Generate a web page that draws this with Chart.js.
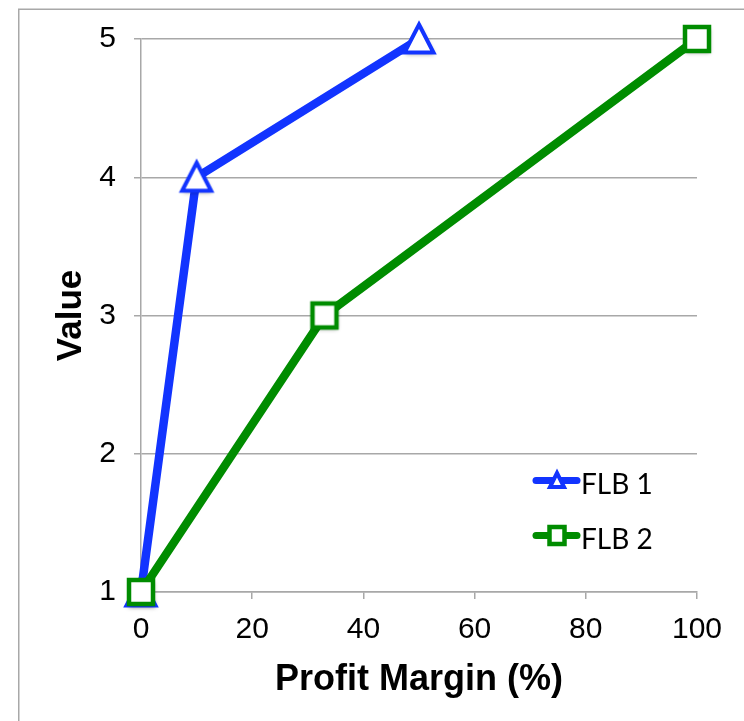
<!DOCTYPE html>
<html>
<head>
<meta charset="utf-8">
<script src="https://cdn.jsdelivr.net/npm/chart.js@4.4.1/dist/chart.umd.min.js"></script>
<style>
  html, body { margin: 0; padding: 0; background: #ffffff; }
  #wrap { width: 744px; height: 721px; position: relative; }
  canvas { display: block; }
</style>
</head>
<body>
<div id="wrap"><canvas id="chart" width="744" height="721"></canvas></div>
<script>
// Series data
const seriesNames = ['FLB 1', 'FLB 2'];
const flb1Margin = [0, 10, 50];
const flb1Value = [1, 4, 5];
const flb2Margin = [0, 33, 100];
const flb2Value = [1, 3, 5];

// Axis ticks and titles
const xTickValues = [0, 20, 40, 60, 80, 100];
const yTickValues = [1, 2, 3, 4, 5];
const xAxisTitle = 'Profit Margin (%)';
const yAxisTitle = 'Value';

const BLUE = '#1234ff';
const GREEN = '#008c00';
const GRID = '#a8a8a8';

// Hollow markers with a soft drop shadow, rendered once to small canvases
function makeMarker(kind, color) {
  const c = document.createElement('canvas');
  c.width = 50; c.height = 50;
  const g = c.getContext('2d');
  const cx = 25, cy = 25;
  g.shadowColor = 'rgba(0,0,0,0.35)';
  g.shadowBlur = 4;
  g.shadowOffsetX = 1;
  g.shadowOffsetY = 2;
  g.beginPath();
  if (kind === 'triangle') {
    g.moveTo(cx, cy - 14.5);
    g.lineTo(cx + 14.5, cy + 13.5);
    g.lineTo(cx - 14.5, cy + 13.5);
    g.closePath();
    g.lineWidth = 4;
  } else {
    g.rect(cx - 12, cy - 12, 24, 24);
    g.lineWidth = 4.5;
  }
  g.fillStyle = '#ffffff';
  g.fill();
  g.shadowColor = 'transparent';
  g.strokeStyle = color;
  g.lineJoin = 'miter';
  g.stroke();
  return c;
}

const triMarker = makeMarker('triangle', BLUE);
const sqMarker = makeMarker('square', GREEN);

const flb1Points = flb1Margin.map((x, i) => ({ x: x, y: flb1Value[i] }));
const flb2Points = flb2Margin.map((x, i) => ({ x: x, y: flb2Value[i] }));

// Outer frame around the whole chart
const framePlugin = {
  id: 'frame',
  beforeDraw(chart) {
    const ctx = chart.ctx;
    ctx.save();
    ctx.fillStyle = '#ffffff';
    ctx.fillRect(0, 0, chart.width, chart.height);
    ctx.strokeStyle = GRID;
    ctx.lineWidth = 1.5;
    ctx.strokeRect(18.75, 9.25, chart.width + 20, chart.height + 20);
    ctx.restore();
  }
};

// Legend drawn inside the plot area, lower right
const insideLegend = {
  id: 'insideLegend',
  afterDatasetsDraw(chart) {
    const ctx = chart.ctx;
    const area = chart.chartArea;
    const x0 = area.left + (533 - 141) / 556 * area.width;
    const lineLen = 47;
    const rows = [area.top + (480.5 - 39) / 553 * area.height,
                  area.top + (535.5 - 39) / 553 * area.height];
    chart.data.datasets.forEach((ds, i) => {
      const y = rows[i];
      const color = ds.borderColor;
      ctx.save();
      ctx.strokeStyle = color;
      ctx.lineWidth = 7;
      ctx.lineCap = 'round';
      ctx.beginPath();
      ctx.moveTo(x0 + 3, y);
      ctx.lineTo(x0 + lineLen - 3, y);
      ctx.stroke();
      const mx = x0 + 24;
      ctx.lineCap = 'butt';
      ctx.lineJoin = 'miter';
      ctx.fillStyle = '#ffffff';
      ctx.beginPath();
      if (i === 0) {
        ctx.moveTo(mx, y - 7.5);
        ctx.lineTo(mx + 7, y + 6.5);
        ctx.lineTo(mx - 7, y + 6.5);
        ctx.closePath();
        ctx.lineWidth = 4;
      } else {
        ctx.rect(mx - 7.5, y - 8.5, 15, 17);
        ctx.lineWidth = 4.5;
      }
      ctx.fill();
      ctx.stroke();
      ctx.fillStyle = '#000000';
      ctx.font = '28px Lato, "Open Sans", sans-serif';
      ctx.textBaseline = 'middle';
      ctx.textAlign = 'left';
      ctx.fillText(ds.label, x0 + lineLen + 1, y + 4);
      ctx.restore();
    });
  }
};

new Chart(document.getElementById('chart'), {
  type: 'line',
  data: {
    datasets: [
      {
        label: seriesNames[0],
        data: flb1Points,
        borderColor: BLUE,
        backgroundColor: BLUE,
        borderWidth: 8.5,
        pointStyle: triMarker,
        pointRadius: 16,
        pointHoverRadius: 16,
        tension: 0,
        clip: false,
        order: 1
      },
      {
        label: seriesNames[1],
        data: flb2Points,
        borderColor: GREEN,
        backgroundColor: GREEN,
        borderWidth: 8.5,
        pointStyle: sqMarker,
        pointRadius: 16,
        pointHoverRadius: 16,
        tension: 0,
        clip: false,
        order: 0
      }
    ]
  },
  options: {
    responsive: false,
    animation: false,
    devicePixelRatio: 1,
    layout: { padding: { left: 0, right: 47, top: 39, bottom: 0 } },
    plugins: {
      legend: { display: false },
      tooltip: { enabled: false }
    },
    scales: {
      x: {
        type: 'linear',
        min: 0,
        max: 100,
        afterBuildTicks(scale) { scale.ticks = xTickValues.map(v => ({ value: v })); },
        afterFit(scale) { scale.height = 129; },
        grid: {
          drawOnChartArea: false,
          drawTicks: true,
          tickLength: 7,
          color: GRID,
          lineWidth: 1.5
        },
        border: { display: true, color: GRID, width: 1.5 },
        ticks: {
          color: '#000000',
          padding: 13,
          maxRotation: 0,
          font: { family: '"Liberation Sans", Arial, sans-serif', size: 30 }
        },
        title: {
          display: true,
          text: xAxisTitle,
          color: '#000000',
          font: { family: '"Liberation Sans", Arial, sans-serif', size: 36, weight: 'bold' },
          padding: { top: 0, bottom: 19 }
        }
      },
      y: {
        type: 'linear',
        min: 1,
        max: 5,
        afterBuildTicks(scale) { scale.ticks = yTickValues.map(v => ({ value: v })); },
        afterFit(scale) { scale.width = 141; },
        grid: {
          drawOnChartArea: true,
          drawTicks: true,
          tickLength: 7,
          color: GRID,
          lineWidth: 1.5
        },
        border: { display: true, color: GRID, width: 1.5 },
        ticks: {
          color: '#000000',
          padding: 18,
          font: { family: '"Liberation Sans", Arial, sans-serif', size: 30 }
        },
        title: {
          display: true,
          text: yAxisTitle,
          color: '#000000',
          font: { family: '"Liberation Sans", Arial, sans-serif', size: 35, weight: 'bold' },
          padding: { top: 50, bottom: 0 }
        }
      }
    }
  },
  plugins: [framePlugin, insideLegend]
});
</script>
</body>
</html>
